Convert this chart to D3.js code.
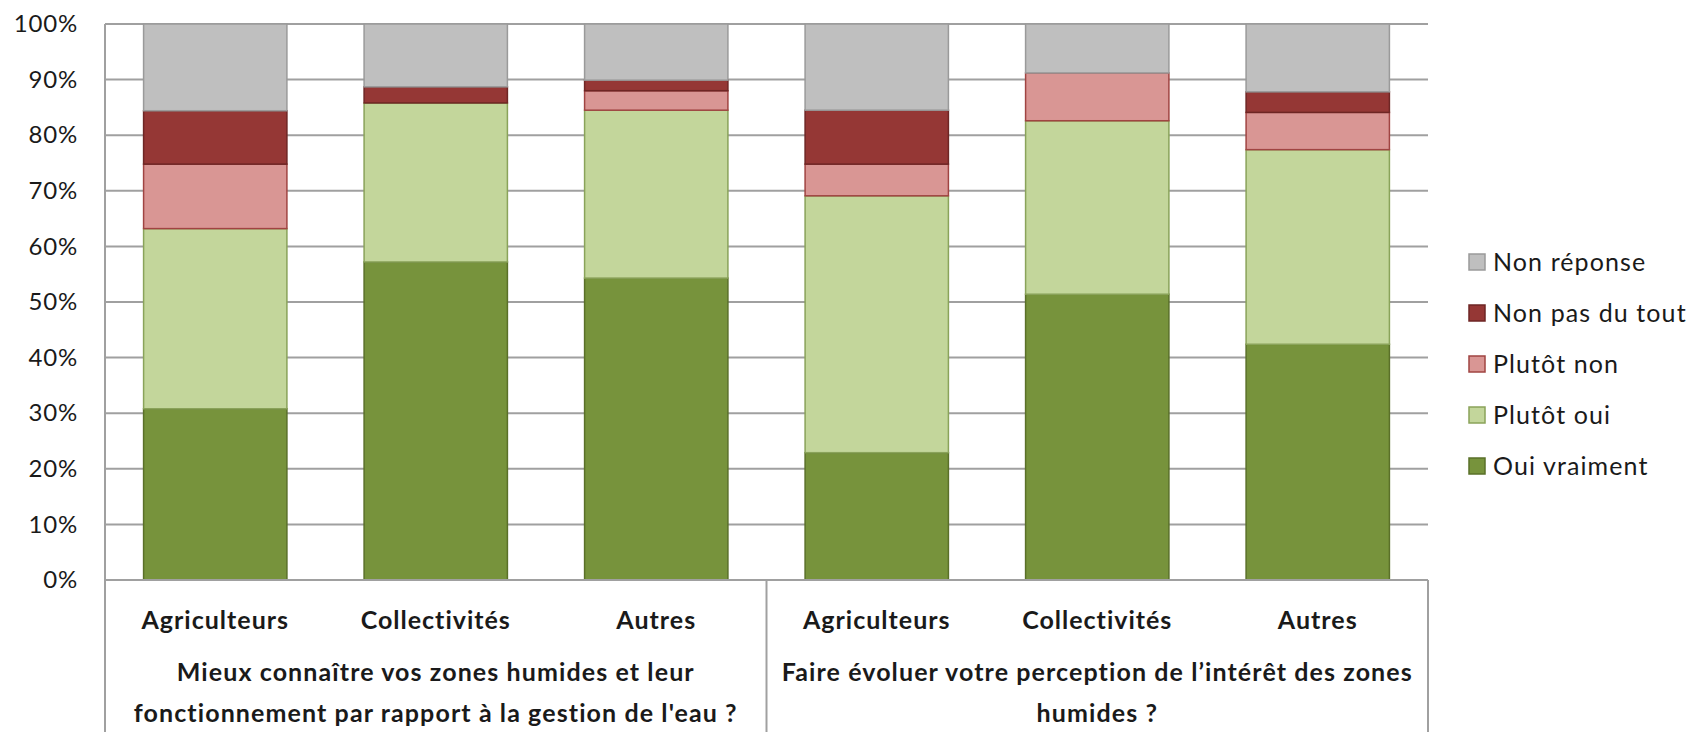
<!DOCTYPE html>
<html>
<head>
<meta charset="utf-8">
<script src="https://cdn.jsdelivr.net/npm/d3@7"></script>
<style>
  body { margin: 0; background: #fff; }
  text { font-family: Lato, "Open Sans", sans-serif; fill: #1a1a1a; }
</style>
</head>
<body>
<svg width="1699" height="738"></svg>
<script>
// categories and groups
const categories = ["Agriculteurs", "Collectivités", "Autres", "Agriculteurs", "Collectivités", "Autres"];
const groups = [
  ["Mieux connaître vos zones humides et leur", "fonctionnement par rapport à la gestion de l'eau ?"],
  ["Faire évoluer votre perception de l’intérêt des zones", "humides ?"]
];

// series values (%), bottom to top
const ouiVraiment  = [30.8, 57.2, 54.3, 22.9, 51.4, 42.4];
const plutotOui    = [32.4, 28.6, 30.2, 46.2, 31.2, 35.0];
const plutotNon    = [11.6, 0.0, 3.5, 5.7, 8.6, 6.7];
const nonPasDuTout = [9.6, 2.9, 1.9, 9.7, 0.0, 3.7];
const nonReponse   = [15.6, 11.3, 10.1, 15.5, 8.8, 12.2];

const seriesNames = ["Oui vraiment", "Plutôt oui", "Plutôt non", "Non pas du tout", "Non réponse"];
const yTicks = [0, 10, 20, 30, 40, 50, 60, 70, 80, 90, 100];

const fills   = ["#77933c", "#c3d69b", "#d99694", "#953735", "#bfbfbf"];
const strokes = ["#5a7029", "#8aa35a", "#a04442", "#6e2624", "#9a9a9a"];

const svg = d3.select("svg");
const margin = { top: 24, right: 271, bottom: 158, left: 105 };
const width = 1699 - margin.left - margin.right;
const height = 738 - margin.top - margin.bottom;
const bottomY = 732 - margin.top;
const chart = svg.append("g").attr("transform", `translate(${margin.left},${margin.top})`);

const rows = categories.map((c, i) => ({
  idx: i,
  "Oui vraiment": ouiVraiment[i],
  "Plutôt oui": plutotOui[i],
  "Plutôt non": plutotNon[i],
  "Non pas du tout": nonPasDuTout[i],
  "Non réponse": nonReponse[i]
}));

const x = d3.scaleBand().domain(d3.range(categories.length)).range([0, width]).paddingInner(0.35).paddingOuter(0.175);
const y = d3.scaleLinear().domain([0, 100]).range([height, 0]);

// gridlines
chart.append("g")
  .selectAll("line")
  .data(yTicks.slice(1))
  .enter().append("line")
  .attr("x1", 0).attr("x2", width)
  .attr("y1", d => y(d)).attr("y2", d => y(d))
  .attr("stroke", "#a0a0a0").attr("stroke-width", 2);

// y axis labels
const yAxis = chart.append("g").call(d3.axisLeft(y).tickValues(yTicks).tickFormat(d => d + "%").tickSize(0).tickPadding(27));
yAxis.select(".domain").remove();
yAxis.selectAll("text")
  .style("font-size", "24px")
  .style("letter-spacing", "0.8px")
  .style("font-family", "Lato, sans-serif")
  .attr("fill", "#1a1a1a");

// stacked bars
const stack = d3.stack().keys(seriesNames)(rows);
chart.append("g")
  .selectAll("g")
  .data(stack)
  .enter().append("g")
  .attr("fill", (d, i) => fills[i])
  .attr("stroke", (d, i) => strokes[i])
  .attr("stroke-width", 1.5)
  .selectAll("rect")
  .data(d => d.filter(p => p[1] - p[0] > 0))
  .enter().append("rect")
  .attr("x", d => x(d.data.idx))
  .attr("y", d => y(d[1]))
  .attr("width", x.bandwidth())
  .attr("height", d => y(d[0]) - y(d[1]));

// axis lines and group separators
const axisColor = "#a0a0a0";
chart.append("line").attr("x1", 0).attr("x2", width).attr("y1", height).attr("y2", height)
  .attr("stroke", axisColor).attr("stroke-width", 2);
chart.append("line").attr("x1", 0).attr("x2", 0).attr("y1", 0).attr("y2", bottomY)
  .attr("stroke", axisColor).attr("stroke-width", 2);
[width / 2, width].forEach(xx => {
  chart.append("line").attr("x1", xx).attr("x2", xx).attr("y1", height).attr("y2", bottomY)
    .attr("stroke", axisColor).attr("stroke-width", 2);
});

// category labels
chart.append("g")
  .selectAll("text")
  .data(categories)
  .enter().append("text")
  .attr("x", (d, i) => x(i) + x.bandwidth() / 2)
  .attr("y", height + 49)
  .attr("text-anchor", "middle")
  .style("font-size", "25px")
  .style("letter-spacing", "1px")
  .style("font-weight", "bold")
  .text(d => d);

// group labels
groups.forEach((lines, gi) => {
  const cx = width / 4 + gi * width / 2;
  lines.forEach((ln, li) => {
    chart.append("text")
      .attr("x", cx)
      .attr("y", height + 101 + li * 41)
      .attr("text-anchor", "middle")
      .style("font-size", "25px")
      .style("letter-spacing", "1.1px")
      .style("font-weight", "bold")
      .text(ln);
  });
});

// legend
const legendItems = seriesNames.map((n, i) => ({ name: n, i })).reverse();
const legend = svg.append("g").attr("transform", "translate(1469,254)");
const li = legend.selectAll("g").data(legendItems).enter().append("g")
  .attr("transform", (d, k) => `translate(0,${k * 51})`);
li.append("rect")
  .attr("width", 16).attr("height", 16)
  .attr("fill", d => fills[d.i]).attr("stroke", d => strokes[d.i]).attr("stroke-width", 1.5);
li.append("text")
  .attr("x", 24).attr("y", 8).attr("dy", "0.35em")
  .style("font-size", "25px")
  .style("letter-spacing", "1.1px")
  .text(d => d.name);
</script>
</body>
</html>
